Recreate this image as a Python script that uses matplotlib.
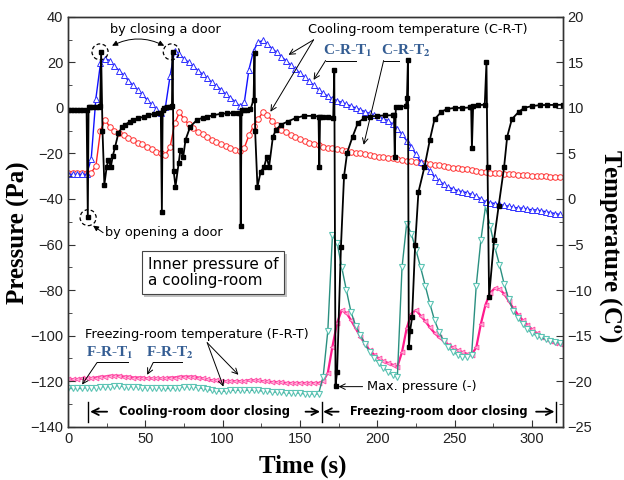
import numpy as np
import matplotlib
matplotlib.use("Agg")
import matplotlib.pyplot as plt
from matplotlib.patches import Ellipse
from matplotlib import patheffects
from matplotlib.ticker import MultipleLocator

# ---- cooling-room inner pressure (Pa) ----
p_time = [0, 2, 4, 6, 8, 10, 12, 12.8, 13.3, 14, 16, 18, 20, 20.8, 21.4, 22.3, 23.5, 25, 26, 27.7,
          29, 30.5, 32.6, 35, 37, 40, 42.3, 45, 48.9, 52, 55.4, 58, 60, 60.7, 61.2, 62, 64, 66, 67.2, 67.6,
          68.3, 69.5, 71.6, 72.7, 74.5, 76, 79, 83.5, 87, 90, 94, 98.7, 103, 107, 110, 111.2, 111.7, 112.2,
          114, 116, 118, 120, 120.6, 121, 122.5, 124.6, 126.8, 128.5, 130, 132.5, 134.5, 137.7, 142, 147.4,
          152.6, 158.4, 162, 162.5, 163, 165, 168, 171.5, 172.2, 173, 174, 176.5, 178.5, 180.5, 184, 187.5,
          191.5, 195, 200, 205, 210, 210.8, 211.3, 212, 215, 218.5, 219.2, 219.8, 220.4, 221.2, 222.5,
          224.5, 226.6, 230.5, 234, 237, 241.5, 245, 250, 255, 260, 260.7, 261.2, 262, 265, 269.5, 270.6,
          271.3, 272.3, 275.5, 278.5, 282, 284, 287, 291.5, 295, 300, 305, 310, 315, 320]
p_vals = [-0.8, -0.8, -0.8, -0.8, -0.8, -0.8, -0.8, -47.8, 0.3, 0.5, 0.5, 0.5, 0.5, 0.8, 24.6, -10, -33.7, -26, -22.8, -25.8,
          -21, -17, -11, -8.5, -7.4, -6, -5.2, -4.6, -3.9, -3.2, -2.6, -2.3, -2.2, -45.6, -1, 0, 0.3, 0.5, 0.8, 24.6,
          -27.5, -34.6, -24, -18.4, -21.5, -14, -8.3, -5.2, -4.4, -3.9, -3.2, -2.6, -2.4, -2.2, -2.2, -2.2, -52, -1,
          -0.8, -0.8, -0.6, 3.6, 24, -10, -34.6, -28, -26, -21.5, -26, -12.7, -9.6, -7.4, -6, -4.4,
          -3.5, -3.5, -3.8, -26, -4, -4, -4, -4.4, 16.7, -122, -116, -61, -30, -19.7, -12.7, -6.5,
          -4.5, -3.8, -3.5, -3.3, -3.2, -3.2, -21.5, 0.5, 0.5, 0.8, 4.4, 21, -105, -98, -92,
          -60, -37, -26, -14, -5, -1.7, -0.5, 0, 0, 0.2, 0.2, -17.5, 1, 1.2, 1.4, 20,
          -26, -83, -58, -43, -26, -12.7, -5, -1.7, 0, 0.8, 1.2, 1.3, 1.3, 1.4]

# ---- temperatures (C), logger sampled every 3 s ----
temp_time = np.arange(0, 319, 3)
crt1 = [2.7, 2.7, 2.7, 2.7, 2.7, 4.4, 11.0, 14.9, 15.4, 15.2,
        14.6, 14.1, 13.6, 13.0, 12.5, 12.0, 11.5, 10.9, 10.4, 9.9,
        9.4, 10.1, 13.5, 16.3, 15.9, 15.4, 15.0, 14.6, 14.1, 13.7,
        13.3, 12.8, 12.4, 12.0, 11.5, 11.1, 10.7, 10.2, 10.6, 14.2,
        16.3, 17.2, 17.4, 17.0, 16.5, 16.1, 15.6, 15.2, 14.7, 14.3,
        13.8, 13.4, 12.9, 12.5, 12.0, 11.6, 11.3, 11.0, 10.8, 10.6,
        10.4, 10.2, 10.0, 9.8, 9.6, 9.4, 9.2, 9.0, 8.8, 8.6,
        8.2, 7.7, 7.1, 6.4, 5.7, 4.9, 4.1, 3.6, 3.1, 2.4,
        2.0, 1.6, 1.3, 1.1, 0.9, 0.8, 0.7, 0.5, 0.3, 0.0,
        -0.3, -0.4, -0.5, -0.6, -0.7, -0.8, -0.9, -1.0, -1.0, -1.1,
        -1.2, -1.2, -1.3, -1.4, -1.5, -1.6, -1.7]
crt2 = [2.9, 2.9, 2.9, 2.9, 2.9, 2.9, 3.6, 7.5, 8.7, 7.9,
        7.5, 7.2, 7.0, 6.7, 6.5, 6.2, 6.0, 5.7, 5.5, 5.2,
        5.0, 4.85, 5.7, 8.3, 9.5, 8.8, 8.2, 7.8, 7.4, 7.1,
        6.8, 6.5, 6.3, 6.0, 5.8, 5.6, 5.4, 5.25, 5.6, 7.0,
        8.0, 8.8, 9.5, 9.2, 8.6, 8.1, 7.6, 7.3, 7.0, 6.8,
        6.6, 6.4, 6.2, 6.05, 5.9, 5.75, 5.65, 5.6, 5.5, 5.4,
        5.3, 5.2, 5.1, 5.0, 4.9, 4.8, 4.75, 4.65, 4.6, 4.5,
        4.45, 4.35, 4.3, 4.2, 4.15, 4.05, 4.0, 3.9, 3.85, 3.75,
        3.7, 3.6, 3.55, 3.45, 3.4, 3.3, 3.25, 3.15, 3.1, 3.0,
        2.95, 2.9, 2.85, 2.8, 2.75, 2.7, 2.7, 2.65, 2.6, 2.6,
        2.55, 2.55, 2.5, 2.5, 2.45, 2.45, 2.4]
frt1 = [-20.8, -20.8, -20.8, -20.8, -20.7, -20.7, -20.7, -20.6, -20.6, -20.6,
        -20.5, -20.5, -20.6, -20.6, -20.6, -20.6, -20.7, -20.7, -20.7, -20.7,
        -20.7, -20.8, -20.8, -20.7, -20.7, -20.6, -20.6, -20.6, -20.7, -20.8,
        -20.9, -21.0, -21.1, -21.1, -21.1, -21.0, -21.0, -21.0, -21.0, -21.0,
        -21.0, -21.0, -21.1, -21.1, -21.2, -21.2, -21.2, -21.3, -21.3, -21.3,
        -21.3, -21.4, -21.4, -21.4, -21.4, -19.5, -14.5, -4.0, -4.8, -7.5,
        -10.0, -12.4, -13.9, -14.9, -15.9, -16.8, -17.5, -18.0, -18.5, -19.0,
        -19.3, -19.5, -7.5, -2.7, -3.8, -5.6, -7.5, -9.5, -11.5, -13.3,
        -14.6, -15.6, -16.3, -16.8, -17.1, -17.3, -17.3, -17.1, -9.5, -4.5,
        -0.8, -3.0, -5.3, -7.2, -9.3, -11.0, -12.3, -13.1, -13.7, -14.3,
        -14.7, -15.0, -15.2, -15.4, -15.6, -15.7, -15.8]
frt2 = [-19.8, -19.8, -19.8, -19.7, -19.7, -19.7, -19.6, -19.5, -19.5, -19.4,
        -19.4, -19.4, -19.5, -19.5, -19.6, -19.6, -19.6, -19.7, -19.7, -19.7,
        -19.7, -19.7, -19.6, -19.6, -19.5, -19.5, -19.5, -19.5, -19.6, -19.7,
        -19.8, -19.9, -19.9, -20.0, -20.0, -20.0, -20.0, -20.0, -20.0, -19.9,
        -19.9, -19.9, -20.0, -20.0, -20.1, -20.1, -20.1, -20.2, -20.2, -20.2,
        -20.2, -20.2, -20.2, -20.2, -20.2, -20.0, -19.1, -16.2, -13.6, -12.2,
        -12.5, -13.3, -14.2, -15.1, -15.9, -16.6, -17.1, -17.5, -17.8, -18.0,
        -18.2, -18.4, -16.8, -14.2, -12.6, -12.2, -12.8, -13.4, -14.1, -14.7,
        -15.2, -15.6, -16.0, -16.3, -16.6, -16.8, -17.0, -17.1, -16.3, -13.7,
        -11.6, -10.3, -9.8, -9.9, -10.4, -11.2, -12.0, -12.7, -13.3, -13.8,
        -14.3, -14.7, -15.1, -15.4, -15.6, -15.8, -15.9]

plt.rcParams["mathtext.fontset"] = "stix"

LABEL_FONT = dict(family="Liberation Serif", weight="bold", size=18)
NOTE_FONT = dict(family="DejaVu Sans", size=9.3)
TAG_COLOR = "#345d93"


def tag(ax, x, y, text, hx, arrow_to):
    """Blue serif tag with a bent leader line ending in an arrow."""
    ax.text(x, y, text, color=TAG_COLOR, fontsize=11, ha="center", va="center",
            family="Liberation Serif", weight="bold")
    y_line = y - 4.3
    ax.plot(hx, [y_line, y_line], color="black", lw=0.7)
    ax.annotate("", xy=arrow_to, xytext=(hx[1], y_line),
                arrowprops=dict(arrowstyle="->", color="black", lw=0.7,
                                shrinkA=0, shrinkB=0))


fig = plt.figure(figsize=(6.24, 4.8), dpi=100)
ax = fig.add_axes([0.109, 0.111, 0.793, 0.854])
ax2 = ax.twinx()
ax.set_zorder(ax2.get_zorder() + 1)
ax.patch.set_visible(False)

# temperatures on the right axis
ax2.plot(temp_time, frt2, color="#ff1a8c", lw=1.6, marker="<", ms=3.5,
         mfc="#ffb3d9", mec="#ff4da6", mew=0.6)
ax2.plot(temp_time, frt1, color="#2a8f80", lw=1.0, marker="v", ms=4.5,
         mfc="white", mec="#5cc4b4", mew=0.8)
ax2.plot(temp_time, crt2, color="#ff2020", lw=1.0, marker="o", ms=4,
         mfc="white", mec="#ff3030", mew=0.7)
ax2.plot(temp_time, crt1, color="#1010ff", lw=1.0, marker="^", ms=5,
         mfc="white", mec="#3030ff", mew=0.7)

# pressure on the left axis
ax.plot(p_time, p_vals, color="black", lw=1.3, marker="s", ms=3)

ax.set_xlim(0, 320)
ax.set_ylim(-140, 40)
ax2.set_ylim(-25, 20)
ax.xaxis.set_major_locator(MultipleLocator(50))
ax.xaxis.set_minor_locator(MultipleLocator(25))
ax.yaxis.set_major_locator(MultipleLocator(20))
ax.yaxis.set_minor_locator(MultipleLocator(10))
ax2.yaxis.set_major_locator(MultipleLocator(5))
ax2.yaxis.set_minor_locator(MultipleLocator(2.5))

for a in (ax, ax2):
    a.tick_params(which="both", direction="in", labelsize=10.5, labelcolor="#222222",
                  color="#333333")
    a.tick_params(which="major", length=5)
    a.tick_params(which="minor", length=3)
    for s in a.spines.values():
        s.set_color("#333333")
        s.set_linewidth(1.0)
ax.tick_params(top=False, right=False)
for lbl in ax.get_xticklabels() + ax.get_yticklabels() + ax2.get_yticklabels():
    lbl.set_family("Liberation Sans")

# axis titles placed in figure coordinates
fig.text(303 / 624, 1 - 466 / 480, "Time (s)", ha="center", va="center", **LABEL_FONT)
fig.text(18 / 624, 1 - 233 / 480, "Pressure (Pa)", rotation=90, ha="center",
         va="center", **LABEL_FONT)
fig.text(610 / 624, 1 - 246 / 480, r"Temperature (C$^{\mathbf{o}}$)", rotation=-90,
         ha="center", va="center", **LABEL_FONT)

# door events
for cx, cy in [(20.7, 24.6), (66.8, 24.6), (13.0, -48.2)]:
    ax.add_patch(Ellipse((cx, cy), 10.4, 7.0, fill=False, ls=(0, (3, 2)),
                         lw=0.9, color="black"))
ax.text(27.2, 34.3, "by closing a door", va="center", **NOTE_FONT)
ax.annotate("", xy=(62.2, 27.3), xytext=(28.5, 27.3),
            arrowprops=dict(arrowstyle="<|-|>", connectionstyle="arc3,rad=-0.25",
                            color="black", lw=0.7, mutation_scale=8,
                            shrinkA=0, shrinkB=0))
ax.text(24.0, -54.6, "by opening a door", va="center", **NOTE_FONT)
ax.annotate("", xy=(16.2, -51.7), xytext=(22.7, -54.8),
            arrowprops=dict(arrowstyle="-|>", color="black", lw=0.7,
                            mutation_scale=8, shrinkA=0, shrinkB=0))

# cooling-room temperature callouts
ax.text(154.9, 34.3, "Cooling-room temperature (C-R-T)", va="center", **NOTE_FONT)
for tip in [(142.6, 23.3), (130.9, -1.7)]:
    ax.annotate("", xy=tip, xytext=(158.8, 29.9),
                arrowprops=dict(arrowstyle="->", color="black", lw=0.7,
                                shrinkA=0, shrinkB=0))
tag(ax, 180.8, 25.1, r"C-R-T$_{\mathbf{1}}$", [186.0, 166.6], (158.8, 12.3))
tag(ax, 218.4, 25.1, r"C-R-T$_{\mathbf{2}}$", [213.9, 204.1], (191.2, -16.2))

# freezing-room temperature callouts
ax.text(11.0, -99.6, "Freezing-room temperature (F-R-T)", va="center", **NOTE_FONT)
for tip in [(110.2, -117.2), (100.5, -122.4)]:
    ax.annotate("", xy=tip, xytext=(90.0, -103.1),
                arrowprops=dict(arrowstyle="->", color="black", lw=0.7,
                                shrinkA=0, shrinkB=0))
tag(ax, 27.2, -107.5, r"F-R-T$_{\mathbf{1}}$", [38.9, 18.8], (9.1, -121.5))
tag(ax, 66.1, -107.5, r"F-R-T$_{\mathbf{2}}$", [73.9, 55.1], (51.2, -117.2))

ax.text(193.1, -122.4, "Max. pressure (-)", va="center", **NOTE_FONT)
ax.annotate("", xy=(175.0, -122.4), xytext=(190.5, -122.4),
            arrowprops=dict(arrowstyle="->", color="black", lw=0.7,
                            shrinkA=0, shrinkB=0))

box = ax.text(51.5, -72.4, "Inner pressure of\na cooling-room", va="center",
              family="DejaVu Sans", size=11, linespacing=1.1,
              bbox=dict(boxstyle="square,pad=0.4", fc="white", ec="#444444", lw=0.8))
box.get_bbox_patch().set_path_effects([
    patheffects.withSimplePatchShadow(offset=(2, -2), shadow_rgbFace="#999999", alpha=0.6)])

# door closing periods
bar_y = [-129.0, -137.8]
for bx in [13.0, 164.0, 315.6]:
    ax.plot([bx, bx], bar_y, color="black", lw=1.0)
head = dict(arrowstyle="->", color="black", lw=1.3, mutation_scale=12,
            shrinkA=0, shrinkB=0)
y_arr = -133.4
for start, end in [(25.3, 14.3), (153.6, 163.0), (175.0, 165.0), (302.7, 314.6)]:
    ax.annotate("", xy=(end, y_arr), xytext=(start, y_arr), arrowprops=head)
ax.text(88.5, y_arr, "Cooling-room door closing", ha="center", va="center",
        family="DejaVu Sans", weight="bold", size=8.3)
ax.text(239.8, y_arr, "Freezing-room door closing", ha="center", va="center",
        family="DejaVu Sans", weight="bold", size=8.3)

fig.savefig("out.png", dpi=100)
